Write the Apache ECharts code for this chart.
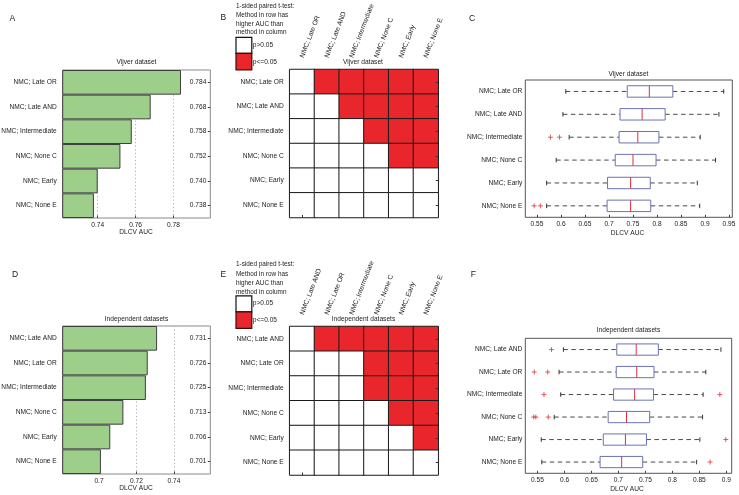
<!DOCTYPE html>
<html><head><meta charset="utf-8">
<script src="https://cdn.jsdelivr.net/npm/echarts@6/dist/echarts.min.js"></script>
<style>html,body{margin:0;padding:0;background:#fff}#c{width:739px;height:495px}</style>
</head><body><div id="c"></div>
<script>
// ---------- data ----------
const vijverMethods = ['NMC; Late OR','NMC; Late AND','NMC; Intermediate','NMC; None C','NMC; Early','NMC; None E'];
const vijverAUC = [0.784, 0.768, 0.758, 0.752, 0.740, 0.738];
const indepMethods = ['NMC; Late AND','NMC; Late OR','NMC; Intermediate','NMC; None C','NMC; Early','NMC; None E'];
const indepAUC = [0.731, 0.726, 0.725, 0.713, 0.706, 0.701];

// 1 = method in row has significantly higher AUC than method in column (p<=0.05)
const vijverSig = [
  [0,1,1,1,1,1],
  [0,0,1,1,1,1],
  [0,0,0,1,1,1],
  [0,0,0,0,1,1],
  [0,0,0,0,0,0],
  [0,0,0,0,0,0]];
const indepSig = [
  [0,1,1,1,1,1],
  [0,0,0,1,1,1],
  [0,0,0,1,1,1],
  [0,0,0,0,1,1],
  [0,0,0,0,0,1],
  [0,0,0,0,0,0]];

// boxplot stats: [lower whisker, Q1, median, Q3, upper whisker]
const vijverBox = [
  [0.610, 0.738, 0.784, 0.833, 0.939],
  [0.604, 0.723, 0.769, 0.817, 0.929],
  [0.617, 0.721, 0.760, 0.804, 0.890],
  [0.590, 0.713, 0.750, 0.798, 0.922],
  [0.570, 0.697, 0.745, 0.786, 0.884],
  [0.570, 0.696, 0.745, 0.787, 0.889]];
const vijverOutliers = [[], [], [0.578, 0.597], [], [], [0.544, 0.557]];
const indepBox = [
  [0.598, 0.697, 0.733, 0.774, 0.890],
  [0.590, 0.696, 0.734, 0.766, 0.862],
  [0.593, 0.691, 0.730, 0.765, 0.857],
  [0.581, 0.681, 0.715, 0.758, 0.856],
  [0.557, 0.672, 0.713, 0.752, 0.851],
  [0.558, 0.666, 0.706, 0.745, 0.845]];
const indepOutliers = [[0.576], [0.544, 0.569], [0.562, 0.888], [0.543, 0.547, 0.570], [0.899], [0.870]];

const barTicksVijver = [0.74, 0.76, 0.78];
const barTicksIndep = [0.70, 0.72, 0.74];
const boxTicksVijver = [0.55, 0.6, 0.65, 0.7, 0.75, 0.8, 0.85, 0.9, 0.95];
const boxTicksIndep = [0.55, 0.6, 0.65, 0.7, 0.75, 0.8, 0.85, 0.9];

// ---------- helpers ----------
const FONT = "'Liberation Sans', Arial, sans-serif";
const TXT = '#222';
const FS = 6.6;
const lbl = o => Object.assign({fontSize: FS, fontFamily: FONT, color: TXT}, o);

function valX(gridIndex, min, max, ticks, split) {
  return {
    gridIndex, type: 'value', min, max,
    axisLine: {show: false},
    axisTick: {show: true, inside: true, length: 2.5, customValues: ticks, lineStyle: {color: '#444'}},
    axisLabel: lbl({customValues: ticks, margin: 3.5}),
    splitLine: split ? {show: true, lineStyle: {type: [1.2, 2.4], color: '#b0b0b0', width: 1}} : {show: false}
  };
}
function catY(gridIndex, data, margin) {
  return {
    gridIndex, type: 'category', data, inverse: true,
    axisLine: {show: false}, axisTick: {show: false}, splitLine: {show: false},
    axisLabel: lbl({margin, interval: 0})
  };
}
function valueLabelY(gridIndex, values) {
  return {
    gridIndex, type: 'category', position: 'right', inverse: true,
    data: values.map(v => v.toFixed(3)),
    axisLine: {show: false},
    axisTick: {show: true, inside: true, length: 2.5, alignWithLabel: true, lineStyle: {color: '#444'}},
    axisLabel: lbl({inside: true, margin: 4, interval: 0}),
    splitLine: {show: false}
  };
}
function heatTopX(gridIndex, data) {
  return {
    gridIndex, type: 'category', position: 'top', data,
    axisLine: {show: false}, axisTick: {show: false}, splitLine: {show: false},
    axisLabel: lbl({rotate: -69, margin: 12, interval: 0, fontSize: 6.8})
  };
}
function tickOnlyX(gridIndex, data) {
  return {
    gridIndex, type: 'category', position: 'bottom', data, z: 10,
    axisLine: {show: false}, axisLabel: {show: false}, splitLine: {show: false},
    axisTick: {show: true, inside: true, length: 2.5, alignWithLabel: true, lineStyle: {color: '#333'}}
  };
}
function tickOnlyY(gridIndex, data) {
  return {
    gridIndex, type: 'category', position: 'right', data, inverse: true, z: 10,
    axisLine: {show: false}, axisLabel: {show: false}, splitLine: {show: false},
    axisTick: {show: true, inside: true, length: 2.5, alignWithLabel: true, lineStyle: {color: '#333'}}
  };
}
const sigData = m => m.flatMap((row, r) => row.map((v, c) => [c, r, v]));
const boxData = s => s.map((b, i) => [...b, i]);
const outlierData = o => o.flatMap((vals, r) => vals.map(v => [v, r]));

function renderBox(params, api) {
  const r = api.value(5);
  const c = [0, 1, 2, 3, 4].map(k => api.coord([api.value(k), r]));
  const band = api.size([0, 1])[1];
  const y = c[2][1], bh = band * 0.5, ch = band * 0.1;
  const wStyle = {stroke: '#4a4a4a', lineWidth: 1, lineDash: [4.5, 3.5], fill: null};
  const capStyle = {stroke: '#333', lineWidth: 1, fill: null};
  return {type: 'group', children: [
    {type: 'line', shape: {x1: c[0][0], y1: y, x2: c[1][0], y2: y}, style: wStyle},
    {type: 'line', shape: {x1: c[3][0], y1: y, x2: c[4][0], y2: y}, style: wStyle},
    {type: 'line', shape: {x1: c[0][0], y1: y - ch, x2: c[0][0], y2: y + ch}, style: capStyle},
    {type: 'line', shape: {x1: c[4][0], y1: y - ch, x2: c[4][0], y2: y + ch}, style: capStyle},
    {type: 'rect', shape: {x: c[1][0], y: y - bh / 2, width: c[3][0] - c[1][0], height: bh},
      style: {fill: '#fff', stroke: '#6c72b2', lineWidth: 1}},
    {type: 'line', shape: {x1: c[2][0], y1: y - bh / 2, x2: c[2][0], y2: y + bh / 2},
      style: {stroke: '#e0313b', lineWidth: 1}}
  ]};
}
const PLUS = 'path://M5,0L5,10M0,5L10,5';
function outlierSeries(xi, yi, data) {
  return {type: 'scatter', xAxisIndex: xi, yAxisIndex: yi, data, symbol: PLUS, symbolSize: 5, z: 4,
    itemStyle: {color: 'rgba(0,0,0,0)', borderColor: '#e0313b', borderWidth: 1}, silent: true};
}
function barSeries(xi, yi, data) {
  return {type: 'bar', xAxisIndex: xi, yAxisIndex: yi, data, barWidth: '100%', barCategoryGap: 0,
    itemStyle: {color: '#9dcf8b', borderColor: '#3f3f3f', borderWidth: 1}, silent: true};
}
function heatSeries(xi, yi, m) {
  return {type: 'heatmap', xAxisIndex: xi, yAxisIndex: yi, data: sigData(m),
    itemStyle: {borderColor: '#1a1a1a', borderWidth: 1}, emphasis: {disabled: true}, silent: true};
}

function txt(x, y, s, o) {
  o = o || {};
  return {type: 'text', x, y, silent: true, style: {
    text: s, fontSize: o.size || FS, fontFamily: FONT, fill: TXT,
    align: o.align || 'center', verticalAlign: o.valign || 'middle', lineHeight: o.lh}};
}
function rect(x, y, w, h, fill, stroke) {
  return {type: 'rect', silent: true, shape: {x, y, width: w, height: h}, style: {fill, stroke, lineWidth: 1.2}};
}
const legendTitle = '1-sided paired t-test:\nMethod in row has\nhigher AUC than\nmethod in column';
function legendGroup(dy, lh) {
  return [
    txt(236, dy + 1.5, legendTitle, {align: 'left', valign: 'top', lh, size: 6.4}),
    rect(236, dy + 37.3, 15.8, 16, '#ffffff', '#111'),
    rect(236, dy + 53.3, 15.8, 16.5, '#e8262c', '#3a0c0c'),
    txt(252.8, dy + 45, 'p>0.05', {align: 'left', size: 6.6}),
    txt(252.8, dy + 62, 'p<=0.05', {align: 'left', size: 6.6})
  ];
}

const grids = [
  {left: 62.7, top: 70, width: 147.6, height: 148, show: true, borderColor: '#8a8a8a', borderWidth: 1},
  {left: 289.7, top: 69.5, width: 148.5, height: 148, show: false},
  {left: 525.3, top: 80, width: 207, height: 137.3, show: true, borderColor: '#555', borderWidth: 1},
  {left: 62.7, top: 326, width: 147.6, height: 148, show: true, borderColor: '#8a8a8a', borderWidth: 1},
  {left: 289.7, top: 326.5, width: 148.5, height: 148.5, show: false},
  {left: 525.3, top: 338.3, width: 206.4, height: 135, show: true, borderColor: '#555', borderWidth: 1}
].map(g => Object.assign({outerBoundsMode: 'none', containLabel: false, backgroundColor: 'transparent'}, g));

const option = {
  animation: false,
  backgroundColor: '#ffffff',
  grid: grids,
  xAxis: [
    valX(0, 0.7215, 0.7995, barTicksVijver, true),
    heatTopX(1, vijverMethods),
    tickOnlyX(1, vijverMethods),
    valX(2, 0.5256, 0.9569, boxTicksVijver, false),
    valX(3, 0.6806, 0.7594, barTicksIndep, true),
    heatTopX(4, indepMethods),
    tickOnlyX(4, indepMethods),
    valX(5, 0.5274, 0.9100, boxTicksIndep, false)
  ],
  yAxis: [
    catY(0, vijverMethods, 6),
    valueLabelY(0, vijverAUC),
    catY(1, vijverMethods, 6),
    tickOnlyY(1, vijverMethods),
    catY(2, vijverMethods, 3),
    catY(3, indepMethods, 6),
    valueLabelY(3, indepAUC),
    catY(4, indepMethods, 6),
    tickOnlyY(4, indepMethods),
    catY(5, indepMethods, 3)
  ],
  visualMap: {
    type: 'piecewise', show: false, seriesIndex: [1, 5], dimension: 2,
    pieces: [{value: 0, color: '#ffffff'}, {value: 1, color: '#e8262c'}]
  },
  series: [
    barSeries(0, 0, vijverAUC),
    heatSeries(1, 2, vijverSig),
    {type: 'custom', xAxisIndex: 3, yAxisIndex: 4, renderItem: renderBox, encode: {x: [0,1,2,3,4], y: 5}, data: boxData(vijverBox), z: 3, silent: true},
    outlierSeries(3, 4, outlierData(vijverOutliers)),
    barSeries(4, 5, indepAUC),
    heatSeries(5, 7, indepSig),
    {type: 'custom', xAxisIndex: 7, yAxisIndex: 9, renderItem: renderBox, encode: {x: [0,1,2,3,4], y: 5}, data: boxData(indepBox), z: 3, silent: true},
    outlierSeries(7, 9, outlierData(indepOutliers))
  ],
  graphic: [
    txt(12.3, 18.3, 'A', {size: 8.5}),
    txt(223.3, 17.3, 'B', {size: 8.5}),
    txt(472, 18.3, 'C', {size: 8.5}),
    txt(15, 275, 'D', {size: 8.5}),
    txt(223.3, 275, 'E', {size: 8.5}),
    txt(473.3, 275, 'F', {size: 8.5}),
    txt(136.5, 62.3, 'Vijver dataset'),
    txt(363, 61.8, 'Vijver dataset'),
    txt(628.5, 74.3, 'Vijver dataset'),
    txt(136.5, 319, 'Independent datasets'),
    txt(363.5, 319.3, 'Independent datasets'),
    txt(628.5, 330.3, 'Independent datasets'),
    txt(136, 232, 'DLCV AUC'),
    txt(627.5, 233.3, 'DLCV AUC'),
    txt(136, 488.3, 'DLCV AUC'),
    txt(627, 489, 'DLCV AUC'),
    ...legendGroup(0, 8.9),
    ...legendGroup(258.5, 9.2)
  ]
};
const chart = echarts.init(document.getElementById('c'), null, {renderer: 'canvas'});
chart.setOption(option);
</script>
</body></html>
